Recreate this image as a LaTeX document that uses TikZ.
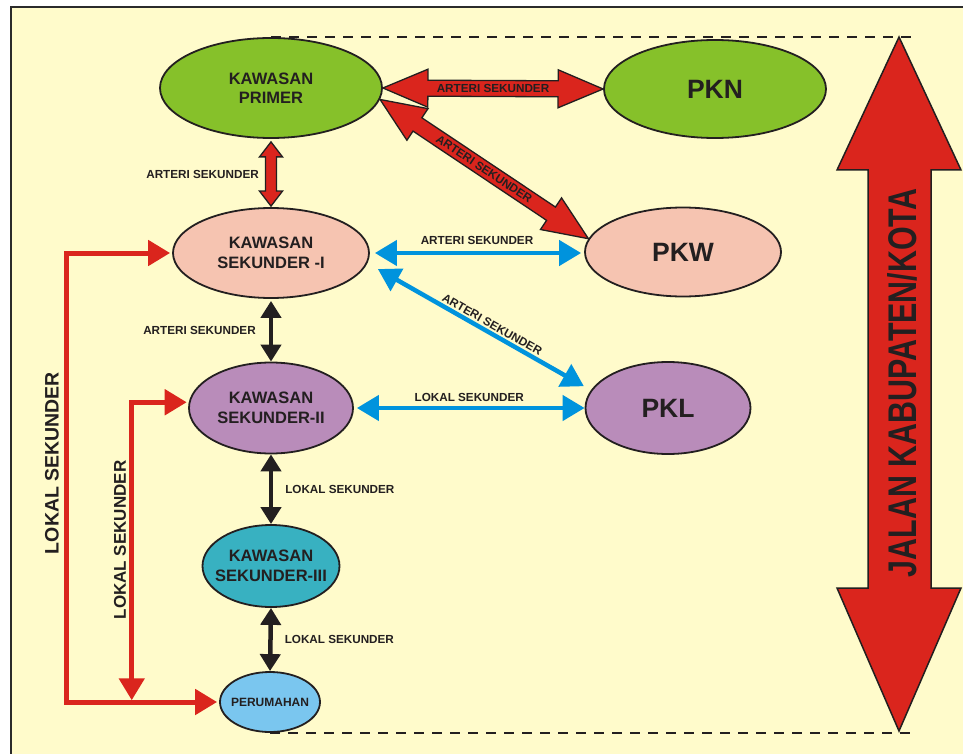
\documentclass[tikz,border=0pt]{standalone}
\usepackage{fontspec}
\setmainfont{Liberation Sans}
\usetikzlibrary{arrows.meta,calc,shapes.geometric}
\definecolor{bgY}{HTML}{FFFBCB}
\definecolor{frameC}{HTML}{2B2B2B}
\definecolor{inkC}{HTML}{231F20}
\definecolor{redC}{HTML}{DA251D}
\definecolor{blueC}{HTML}{0093DD}
\definecolor{greenC}{HTML}{86C12A}
\definecolor{pinkC}{HTML}{F6C4B1}
\definecolor{purpleC}{HTML}{B98CBA}
\definecolor{tealC}{HTML}{38B1C1}
\definecolor{lblueC}{HTML}{7AC6EF}
\newcommand{\zw}[1]{\makebox[0pt]{#1}}
% #1 style, #2 start, #3 end, #4 shaft half width, #5 head half width, #6 head length
\newcommand{\fatarr}[6]{%
  \draw[#1] (#2)
    -- ($(#2)!#6!(#3)!#5!90:(#3)$)
    -- ($(#2)!#6!(#3)!#4!90:(#3)$)
    -- ($(#3)!#6!(#2)!#4!-90:(#2)$)
    -- ($(#3)!#6!(#2)!#5!-90:(#2)$)
    -- (#3)
    -- ($(#3)!#6!(#2)!#5!90:(#2)$)
    -- ($(#3)!#6!(#2)!#4!90:(#2)$)
    -- ($(#2)!#6!(#3)!#4!-90:(#3)$)
    -- ($(#2)!#6!(#3)!#5!-90:(#3)$)
    -- cycle;}
\begin{document}
\begin{tikzpicture}[x=1pt,y=-1pt,
  ell/.style={ellipse, draw=inkC, line width=1.8pt, inner sep=0pt, text=inkC,
    font=\bfseries\fontsize{16.5}{19.5}\selectfont, align=center},
  bigtxt/.style={font=\bfseries\fontsize{26.5}{28}\selectfont},
  lbl/.style={text=inkC, font=\bfseries\fontsize{11.7}{13}\selectfont, inner sep=0pt},
  blk/.style={draw=inkC, line width=4.5pt,
    {Triangle[length=17pt,width=20pt]}-{Triangle[length=17pt,width=20pt]}},
  blu/.style={draw=blueC, line width=4.5pt,
    {Triangle[length=22pt,width=25pt]}-{Triangle[length=22pt,width=25pt]}},
  redl/.style={draw=redC, line width=5pt,
    {Triangle[length=22pt,width=25pt]}-{Triangle[length=22pt,width=25pt]}},
  fatred/.style={fill=redC, draw=inkC, line width=1.3pt, line join=miter},
  dsh/.style={draw=inkC, line width=2pt, dash pattern=on 10pt off 8pt}
]
\useasboundingbox (0,0) rectangle (963,754);
\clip (0,0) rectangle (963,754);
\fill[white] (0,0) rectangle (963,754);
\draw[fill=bgY, draw=frameC, line width=2pt] (11,7) rectangle (1000,800);

% nodes
\node[ell, fill=greenC, minimum width=222pt, minimum height=100pt] (prim) at (271,88) {\zw{KAWASAN}\\\zw{PRIMER}};
\node[ell, bigtxt, fill=greenC, minimum width=222pt, minimum height=98pt] (pkn) at (715,89) {PKN};
\node[ell, fill=pinkC, minimum width=196pt, minimum height=90pt] (sek1) at (271,253) {\zw{KAWASAN}\\\zw{SEKUNDER -I}};
\node[ell, bigtxt, fill=pinkC, minimum width=196pt, minimum height=89pt] (pkw) at (683,252) {PKW};
\node[ell, fill=purpleC, minimum width=164pt, minimum height=91pt] (sek2) at (271,408) {\zw{KAWASAN}\\\zw{SEKUNDER-II}};
\node[ell, bigtxt, fill=purpleC, minimum width=165pt, minimum height=92pt] (pkl) at (668,408) {PKL};
\node[ell, fill=tealC, minimum width=137pt, minimum height=82pt] (sek3) at (271,566) {\zw{KAWASAN}\\\zw{SEKUNDER-III}};
\node[ell, fill=lblueC, minimum width=100pt, minimum height=60pt, font=\bfseries\fontsize{12}{14}\selectfont] (peru) at (270,702) {\zw{PERUMAHAN}};

% dashed guide lines
\draw[dsh] (prim.north) -- ++(642,0);
\draw[dsh] (peru.south) -- ++(643,0);

% fat red arrows
\fatarr{fatred}{prim.east}{pkn.west}{8pt}{19pt}{45pt}
\path (prim.east) -- (pkn.west) node[midway, lbl] (l1) {ARTERI SEKUNDER};
\fatarr{fatred}{prim.-6}{pkw.172}{8pt}{19pt}{45pt}
\path (prim.-6) -- (pkw.172) node[midway, sloped, lbl] (l2) {ARTERI SEKUNDER};
\coordinate (v1) at ($(prim.south)+(0,3)$);
\coordinate (v2) at ($(sek1.north)+(0,-1)$);
\fatarr{fatred}{v1}{v2}{5.5pt}{11.5pt}{15pt}
\path (v1) -- (v2) node[midway, left=12pt, lbl] (l3) {ARTERI SEKUNDER};

% blue arrows
\draw[blu, shorten <=5pt, shorten >=3pt] (sek1.east) -- (sek1.east -| pkw.west)
  node[midway, above=6.5pt, lbl] (l4) {ARTERI SEKUNDER};
\draw[blu, shorten <=12pt, shorten >=8pt] (sek1.-6) -- (pkl.167)
  node[pos=0.54, above=2pt, sloped, lbl] (l5) {ARTERI SEKUNDER};
\draw[blu, shorten <=3pt] (sek2.east) -- (sek2.east -| pkl.west)
  node[midway, above=4.5pt, lbl] (l6) {LOKAL SEKUNDER};

% black arrows
\draw[blk, shorten <=2pt] (sek1.south) -- (sek2.north)
  node[midway, left=13pt, lbl] (l7) {ARTERI SEKUNDER};
\draw[blk] (sek2.south) -- (sek3.north)
  node[midway, right=12pt, lbl] (l8) {LOKAL SEKUNDER};
\draw[blk] (sek3.south) -- (peru.north)
  node[midway, right=12pt, lbl] (l9) {LOKAL SEKUNDER};

% red orthogonal arrows
\draw[redl, shorten <=2pt, shorten >=2pt] (sek1.west) -- ++(-106,0) |- (peru.west);
\draw[redl, shorten <=2pt] (sek2.176) -- ++(-57,0) -- ++(0,298);
\node[lbl, rotate=90, font=\bfseries\fontsize{19.5}{20}\selectfont] (ls1) at (52,463) {LOKAL SEKUNDER};
\node[lbl, rotate=90, font=\bfseries\fontsize{17}{18}\selectfont] (ls2) at (120,540) {LOKAL SEKUNDER};

% big vertical arrow
\draw[fatred, line width=1.5pt] (899,37) -- (961,170) -- (931,170) -- (931,588) -- (961,588)
  -- (899,731) -- (837,588) -- (868,588) -- (868,170) -- (837,170) -- cycle;
\node[text=inkC, inner sep=0pt, rotate=90] (jk) at (902,383)
  {\scalebox{0.76}[1]{\bfseries\fontsize{40}{40}\selectfont JALAN KABUPATEN/KOTA}};
\end{tikzpicture}
\end{document}
